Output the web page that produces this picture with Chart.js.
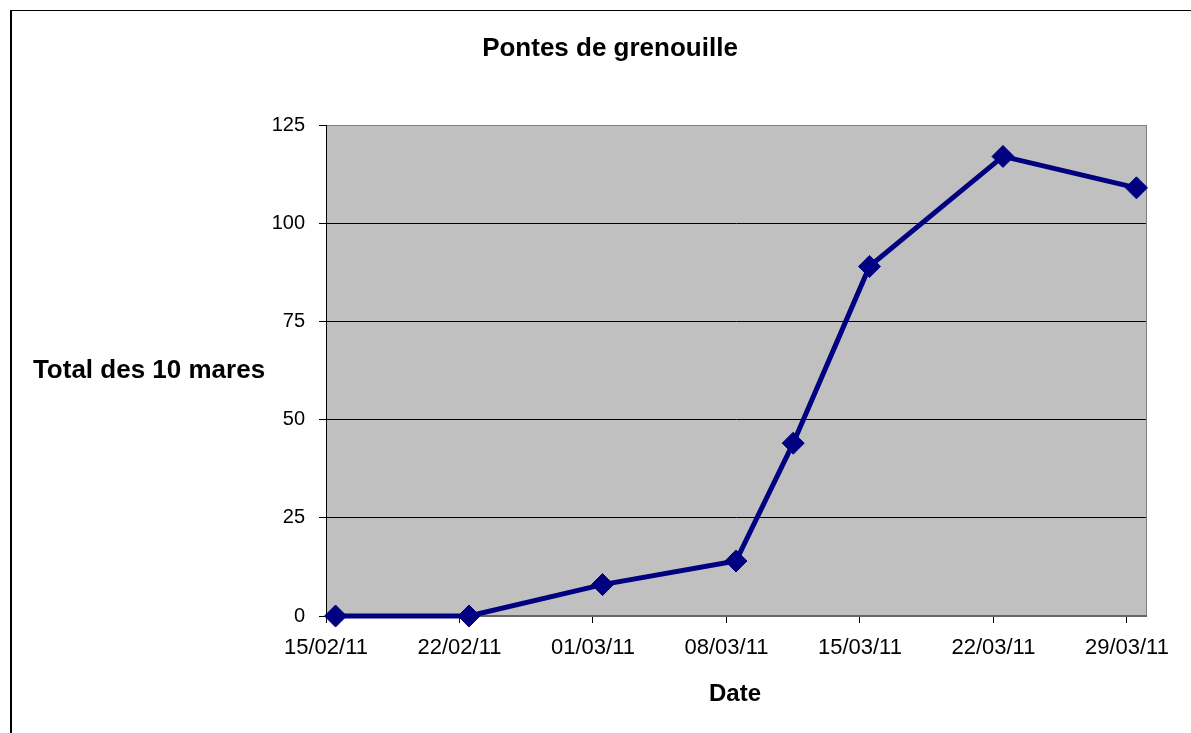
<!DOCTYPE html>
<html lang="fr">
<head>
<meta charset="utf-8">
<title>Pontes de grenouille</title>
<script src="https://cdn.jsdelivr.net/npm/chart.js@4.4.1/dist/chart.umd.min.js"></script>
<style>
  html, body { margin: 0; padding: 0; background: #fff; }
  #wrap { position: relative; width: 1191px; height: 733px; }
</style>
</head>
<body>
<div id="wrap"><canvas id="frogChart" width="1191" height="733"></canvas></div>
<script>
// Données
const tickLabels = ['15/02/11', '22/02/11', '01/03/11', '08/03/11', '15/03/11', '22/03/11', '29/03/11'];
const tickDays = [0, 7, 14, 21, 28, 35, 42];          // jours depuis le 15/02/11
const sampleDays = [0, 7, 14, 21, 24, 28, 35, 42];    // jours des relevés
const pontes = [0, 0, 8, 14, 44, 89, 117, 109];       // total des 10 mares
const yTicks = [0, 25, 50, 75, 100, 125];

const FONT = "Arial, 'Liberation Sans', sans-serif";

/**
 * Fond gris de la zone de tracé, cadre et textes façon Excel
 */
const excelLook = {
  id: 'excelLook',
  beforeDraw(chart) {
    const { ctx, chartArea: a } = chart;
    ctx.save();
    // cadre du graphique
    ctx.fillStyle = '#000';
    ctx.fillRect(10, 10, 2, chart.height);
    ctx.fillRect(10, 10, chart.width, 1);
    // zone de tracé
    ctx.fillStyle = '#c0c0c0';
    ctx.fillRect(a.left, a.top, a.right - a.left, a.bottom - a.top);
    ctx.strokeStyle = '#808080';
    ctx.lineWidth = 1;
    ctx.beginPath();
    ctx.moveTo(a.right + 0.5, a.top);
    ctx.lineTo(a.right + 0.5, a.bottom);
    ctx.stroke();
    ctx.restore();
  },
  afterDraw(chart) {
    const { ctx } = chart;
    ctx.save();
    ctx.fillStyle = '#000';
    ctx.textAlign = 'center';
    ctx.textBaseline = 'middle';
    ctx.font = 'bold 26px ' + FONT;
    ctx.fillText('Pontes de grenouille', 610, 49);
    ctx.fillText('Total des 10 mares', 149, 371);
    ctx.font = 'bold 24px ' + FONT;
    ctx.fillText('Date', 735, 694);
    ctx.restore();
  }
};

function initChart() {
  const ctx = document.getElementById('frogChart');
  if (!ctx || typeof Chart === 'undefined') return;

  new Chart(ctx, {
    type: 'line',
    data: {
      datasets: [{
        label: 'Pontes',
        data: sampleDays.map((d, i) => ({ x: d, y: pontes[i] })),
        borderColor: '#000080',
        borderWidth: 5,
        backgroundColor: '#000080',
        pointStyle: 'rectRot',
        pointRadius: 11,
        pointBorderWidth: 1,
        pointBackgroundColor: '#000080',
        pointBorderColor: '#000080',
        tension: 0,
        clip: false
      }]
    },
    options: {
      responsive: false,
      animation: false,
      layout: { padding: { left: 0, top: 125, right: 45, bottom: 0 } },
      plugins: {
        legend: { display: false },
        tooltip: { enabled: false },
        title: { display: false }
      },
      scales: {
        x: {
          type: 'linear',
          // chaque jour occupe une case, le relevé est au milieu
          min: -0.5,
          max: 42.5,
          afterBuildTicks: scale => {
            scale.ticks = tickDays.map(d => ({ value: d - 0.5 }));
          },
          afterFit: scale => { scale.height = 117; },
          ticks: {
            autoSkip: false,
            maxRotation: 0,
            padding: 12,
            color: '#000',
            font: { family: FONT, size: 22 },
            callback: (value, index) => tickLabels[index]
          },
          grid: {
            drawOnChartArea: false,
            drawTicks: true,
            tickLength: 7,
            tickColor: '#000'
          },
          border: { color: '#666', width: 2 }
        },
        y: {
          min: 0,
          max: 125,
          afterBuildTicks: scale => {
            scale.ticks = yTicks.map(v => ({ value: v }));
          },
          afterFit: scale => { scale.width = 326; },
          ticks: {
            padding: 14,
            color: '#000',
            font: { family: FONT, size: 20 }
          },
          grid: {
            color: c => {
              if (c.tick && c.tick.value === 125) return '#808080';
              if (c.tick && c.tick.value === 0) return '#666';
              return '#000';
            },
            lineWidth: 1,
            tickLength: 7,
            tickColor: '#000'
          },
          border: { color: '#000', width: 1 }
        }
      }
    },
    plugins: [excelLook]
  });
}

if (document.readyState === 'loading') {
  document.addEventListener('DOMContentLoaded', initChart);
} else {
  initChart();
}
</script>
</body>
</html>
